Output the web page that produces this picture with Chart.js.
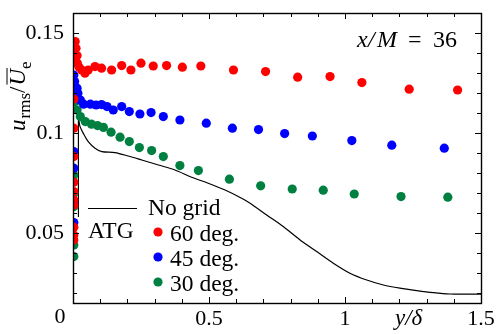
<!DOCTYPE html>
<html>
<head>
<meta charset="utf-8">
<script src="https://cdn.jsdelivr.net/npm/chart.js@4.4.1/dist/chart.umd.min.js"></script>
<style>
html, body { margin: 0; padding: 0; background: #fff; }
#wrap { width: 497px; height: 334px; }
</style>
</head>
<body>
<div id="wrap"><canvas id="chart" width="497" height="334"></canvas></div>
<script>
// axis ticks
var xTicks = [0, 0.5, 1, 1.5];
var xTickLabels = ['', '0.5', '1', '1.5'];
var xMinor = [0.1, 0.2, 0.3, 0.4, 0.6, 0.7, 0.8, 0.9, 1.1, 1.2, 1.3, 1.4];
var yTicks = [0.05, 0.1, 0.15];
var yTickLabels = ['0.05', '0.1', '0.15'];
var yMinor = [0.02, 0.03, 0.04, 0.06, 0.07, 0.08, 0.09, 0.11, 0.12, 0.13, 0.14];

// ATG 60 deg.
var deg60X = [0.003, 0.003, 0.003, 0.003, 0.003, 0.003, 0.003, 0.003, 0.003, 0.003,
  0.008, 0.011, 0.015, 0.008, 0.016, 0.022, 0.032, 0.044, 0.056, 0.081, 0.105, 0.142,
  0.179, 0.213, 0.250, 0.295, 0.344, 0.402, 0.470, 0.590, 0.708, 0.826, 0.945, 1.062, 1.236, 1.414];
var deg60Y = [0.117, 0.1024, 0.0882, 0.0754, 0.0707, 0.0665, 0.064, 0.0529, 0.049, 0.0465,
  0.1457, 0.1424, 0.1387, 0.1357, 0.1349, 0.133, 0.1315, 0.1299, 0.1315, 0.1332, 0.1324, 0.1315,
  0.1337, 0.1315, 0.1349, 0.1335, 0.1337, 0.1329, 0.1335, 0.1315, 0.1307, 0.1279, 0.1282, 0.1252, 0.1219, 0.1215];

// ATG 45 deg.
var deg45X = [0.003, 0.003, 0.003, 0.003,
  0.003, 0.006, 0.015, 0.018, 0.027, 0.039, 0.064, 0.085, 0.105, 0.125, 0.148, 0.179, 0.207,
  0.246, 0.287, 0.332, 0.393, 0.490, 0.586, 0.682, 0.778, 0.880, 1.025, 1.172, 1.365];
var deg45Y = [0.0907, 0.0824, 0.0649, 0.0552,
  0.129, 0.1257, 0.1224, 0.1199, 0.1165, 0.1144, 0.1144, 0.114, 0.1142, 0.1132, 0.1115, 0.1132, 0.1107,
  0.1095, 0.1102, 0.1082, 0.1065, 0.1049, 0.1024, 0.1017, 0.0997, 0.0985, 0.0962, 0.0939, 0.0924];

// ATG 30 deg.
var deg30X = [0.003, 0.003, 0.003, 0.003, 0.003,
  0.003, 0.005, 0.009, 0.015, 0.027, 0.045, 0.068, 0.09, 0.112, 0.140, 0.173, 0.207, 0.244,
  0.289, 0.332, 0.393, 0.461, 0.575, 0.690, 0.806, 0.920, 1.034, 1.206, 1.378];
var deg30Y = [0.079, 0.0699, 0.0632, 0.044, 0.0382,
  0.124, 0.119, 0.1157, 0.1115, 0.1082, 0.1057, 0.1044, 0.1037, 0.1028, 0.1004, 0.0979, 0.0957, 0.0927,
  0.0912, 0.0882, 0.0837, 0.0812, 0.0769, 0.0736, 0.072, 0.0714, 0.0695, 0.0682, 0.0679];

// no grid profile
var noGridX = [0.020, 0.020, 0.022, 0.026, 0.038, 0.056, 0.081, 0.106, 0.154, 0.203, 0.253, 0.314,
  0.375, 0.436, 0.497, 0.559, 0.620, 0.651, 0.712, 0.773, 0.835, 0.896, 0.957, 1.018, 1.080,
  1.141, 1.202, 1.264, 1.325, 1.386, 1.44, 1.5];
var noGridY = [0.058, 0.108, 0.106, 0.1032, 0.0998, 0.0957, 0.0924, 0.0907, 0.0902, 0.0885, 0.0865, 0.084,
  0.0815, 0.0779, 0.0749, 0.0715, 0.0674, 0.0649, 0.059, 0.0532, 0.0465, 0.0407, 0.0349, 0.0299, 0.0265,
  0.024, 0.0224, 0.0212, 0.0202, 0.0195, 0.0194, 0.0194];

var red = '#ff0000', blue = '#0000ff', green = '#008040';
var serif = "'Liberation Serif', 'Times New Roman', serif";

function pts(xs, ys) {
  var out = [];
  for (var i = 0; i < xs.length; i++) out.push({ x: xs[i], y: ys[i] });
  return out;
}

function dots(data, color) {
  return {
    type: 'scatter',
    data: data,
    pointRadius: 4.6,
    pointBorderWidth: 0,
    pointBackgroundColor: color,
    pointBorderColor: color,
    showLine: false
  };
}

function noPad(s) {
  s.paddingTop = 0; s.paddingBottom = 0;
  s.paddingLeft = 0; s.paddingRight = 0;
}

// frame, inward ticks and the hand-placed texts
var decorations = {
  id: 'decorations',
  afterDraw: function(chart) {
    var ctx = chart.ctx, a = chart.chartArea;
    var xs = chart.scales.x, ys = chart.scales.y;
    ctx.save();
    ctx.strokeStyle = '#000';
    ctx.lineWidth = 1;
    function tx(v, len) {
      var p = Math.round(xs.getPixelForValue(v)) + 0.5;
      ctx.beginPath();
      ctx.moveTo(p, a.bottom); ctx.lineTo(p, a.bottom - len);
      ctx.moveTo(p, a.top); ctx.lineTo(p, a.top + len);
      ctx.stroke();
    }
    function ty(v, len) {
      var p = Math.round(ys.getPixelForValue(v)) + 0.5;
      ctx.beginPath();
      ctx.moveTo(a.left, p); ctx.lineTo(a.left + len, p);
      ctx.moveTo(a.right, p); ctx.lineTo(a.right - len, p);
      ctx.stroke();
    }
    xTicks.forEach(function(v) { tx(v, 6); });
    xMinor.forEach(function(v) { tx(v, 4); });
    yTicks.forEach(function(v) { ty(v, 6); });
    yMinor.forEach(function(v) { ty(v, 4); });
    ctx.lineWidth = 1.4;
    ctx.strokeRect(Math.round(a.left) + 0.5, Math.round(a.top) + 0.5,
      Math.round(a.right - a.left), Math.round(a.bottom - a.top));

    ctx.fillStyle = '#000';
    ctx.textBaseline = 'alphabetic';

    // shared origin label
    ctx.font = '22px ' + serif;
    ctx.textAlign = 'center';
    ctx.fillText('0', a.left - 13, 323);

    // x title
    ctx.textAlign = 'left';
    ctx.font = 'italic 23px ' + serif;
    ctx.fillText('y/\u03b4', 395, 325);

    // x/M = 36
    ctx.font = 'italic 24px ' + serif;
    ctx.fillText('x', 357, 47);
    ctx.fillText('/', 368, 47);
    ctx.fillText('M', 377, 47);
    ctx.font = '24px ' + serif;
    ctx.fillText('=', 408, 47);
    ctx.fillText('36', 433, 47);

    // y title, rotated
    ctx.save();
    ctx.translate(25, 131);
    ctx.rotate(-Math.PI / 2);
    var p = 0;
    ctx.font = 'italic 23px ' + serif;
    ctx.fillText('u', p, 0);
    p += ctx.measureText('u').width + 1;
    ctx.font = '17px ' + serif;
    ctx.fillText('rms', p, 5);
    p += ctx.measureText('rms').width;
    ctx.font = '23px ' + serif;
    ctx.fillText('/', p, 0);
    p += ctx.measureText('/').width + 1;
    ctx.font = 'italic 23px ' + serif;
    var wU = ctx.measureText('U').width;
    ctx.fillText('U', p, 0);
    ctx.lineWidth = 1;
    ctx.beginPath();
    ctx.moveTo(p + 1, -18); ctx.lineTo(p + wU + 1, -18);
    ctx.stroke();
    p += wU;
    ctx.font = '17px ' + serif;
    ctx.fillText('e', p, 6);
    ctx.restore();

    // legend
    ctx.lineWidth = 1.2;
    ctx.beginPath();
    ctx.moveTo(88, 208.5); ctx.lineTo(137, 208.5);
    ctx.stroke();
    ctx.font = '23.5px ' + serif;
    ctx.fillText('No grid', 148, 215);
    ctx.fillText('ATG', 88, 238);
    var rows = [[red, '60 deg.'], [blue, '45 deg.'], [green, '30 deg.']];
    rows.forEach(function(r, i) {
      var cy = 232 + i * 25;
      ctx.fillStyle = r[0];
      ctx.beginPath();
      ctx.arc(158, cy, 4.6, 0, Math.PI * 2);
      ctx.fill();
      ctx.fillStyle = '#000';
      ctx.fillText(r[1], 170, cy + 9);
    });
    ctx.restore();
  }
};

var chartArea = document.getElementById('chart');
var myChart = new Chart(chartArea, {
  type: 'scatter',
  data: {
    datasets: [
      dots(pts(deg60X, deg60Y), red),
      dots(pts(deg45X, deg45Y), blue),
      dots(pts(deg30X, deg30Y), green),
      {
        type: 'line',
        data: pts(noGridX, noGridY),
        borderColor: '#000',
        borderWidth: 1.2,
        pointRadius: 0,
        fill: false,
        tension: 0.3
      }
    ]
  },
  options: {
    responsive: false,
    devicePixelRatio: 1,
    animation: false,
    layout: { padding: { top: 13, right: 16, left: 0, bottom: 0 } },
    plugins: {
      legend: { display: false },
      tooltip: { enabled: false }
    },
    scales: {
      x: {
        type: 'linear',
        min: 0,
        max: 1.5,
        grid: { display: false, drawTicks: false },
        border: { display: false },
        afterBuildTicks: function(s) { s.ticks = xTicks.map(function(v) { return { value: v }; }); },
        afterFit: function(s) { s.height = 31; noPad(s); },
        ticks: {
          padding: 3,
          color: '#000',
          font: { family: serif, size: 22 },
          maxRotation: 0,
          callback: function(v) { return xTickLabels[xTicks.indexOf(v)]; }
        }
      },
      y: {
        type: 'linear',
        min: 0.015,
        max: 0.16,
        grid: { display: false, drawTicks: false },
        border: { display: false },
        afterBuildTicks: function(s) { s.ticks = yTicks.map(function(v) { return { value: v }; }); },
        afterFit: function(s) { s.width = 73; noPad(s); },
        ticks: {
          padding: 9,
          color: '#000',
          font: { family: serif, size: 22 },
          callback: function(v) { return yTickLabels[yTicks.indexOf(v)]; }
        }
      }
    }
  },
  plugins: [decorations]
});
</script>
</body>
</html>
